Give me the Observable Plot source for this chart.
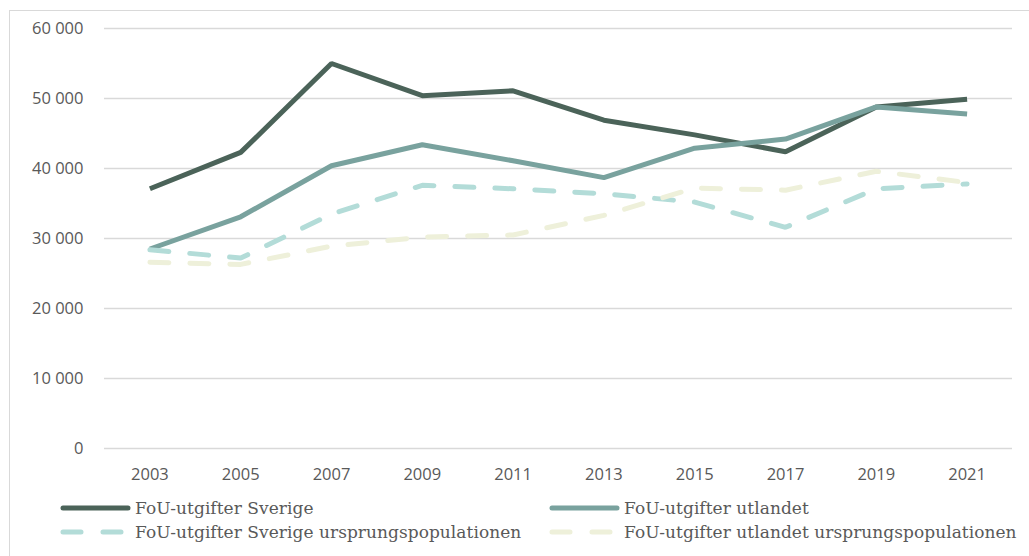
<!DOCTYPE html>
<html>
<head>
<meta charset="utf-8">
<script src="https://cdn.jsdelivr.net/npm/d3@7"></script>
<script src="https://cdn.jsdelivr.net/npm/@observablehq/plot@0.6"></script>
<style>
  html, body { margin: 0; padding: 0; background: #fff; }
  #wrap { position: relative; width: 1029px; height: 556px; overflow: hidden; background: #fff; }
  #frame { position: absolute; left: 9px; top: 10px; width: 1030px; height: 560px;
           border-top: 1.5px solid #d9d9d9; border-left: 1.5px solid #d9d9d9; box-sizing: border-box; }
  #chart { position: absolute; left: 0; top: 0; }
  .leg { position: absolute; display: flex; align-items: center; font-family: "DejaVu Serif", serif;
         font-size: 17px; color: #595959; white-space: nowrap; letter-spacing: 0.05px; }
  .leg svg { margin-right: 4px; }
</style>
</head>
<body>
<div id="wrap">
  <div id="frame"></div>
  <div id="chart"></div>
</div>
<script>
const years = ["2003","2005","2007","2009","2011","2013","2015","2017","2019","2021"];
const seriesNames = [
  "FoU-utgifter Sverige",
  "FoU-utgifter utlandet",
  "FoU-utgifter Sverige ursprungspopulationen",
  "FoU-utgifter utlandet ursprungspopulationen"
];
const sverige      = [37100, 42300, 55000, 50400, 51100, 46900, 44800, 42400, 48800, 49900];
const utlandet     = [28500, 33100, 40400, 43400, 41100, 38700, 42900, 44200, 48800, 47800];
const sverigeUrspr = [28400, 27200, 33500, 37600, 37100, 36400, 35200, 31600, 37100, 37800];
const utlandetUrspr= [26600, 26300, 28900, 30200, 30500, 33300, 37200, 36900, 39600, 38000];
const yTicks = [0, 10000, 20000, 30000, 40000, 50000, 60000];

const colors = ["#4b6359", "#79a29e", "#b3dcd8", "#eef0da"];
const dashed = [false, false, true, true];
const allValues = [sverige, utlandet, sverigeUrspr, utlandetUrspr];

const rows = [];
allValues.forEach((vals, si) => {
  vals.forEach((v, i) => rows.push({series: seriesNames[si], year: years[i], value: v}));
});

const fmt = v => d3.format(",")(v).replace(/,/g, " ");

const lineMarks = seriesNames.map((name, si) =>
  Plot.line(rows.filter(d => d.series === name), {
    x: "year", y: "value",
    stroke: colors[si], strokeWidth: 5,
    strokeLinecap: dashed[si] ? "round" : "butt",
    strokeLinejoin: "miter",
    strokeDasharray: dashed[si] ? "19,21" : null
  })
);

const chart = Plot.plot({
  width: 1029,
  height: 490,
  marginTop: 28,
  marginBottom: 42,
  marginLeft: 104,
  marginRight: 17,
  style: { fontFamily: "'Open Sans', sans-serif", fontSize: "16.5px", color: "#595959", background: "transparent" },
  x: { type: "point", domain: years, padding: 0.5, round: false, label: null },
  y: { domain: [0, 60000], ticks: yTicks, label: null },
  marks: [
    Plot.gridY(yTicks, { stroke: "#d9d9d9", strokeOpacity: 1, strokeWidth: 1.4 }),
    Plot.axisX({ tickSize: 0, tickPadding: 20, label: null, fill: "#595959" }),
    Plot.axisY(yTicks, { tickSize: 0, tickPadding: 21, tickFormat: fmt, label: null, fill: "#595959" }),
    ...lineMarks
  ]
});
document.getElementById("chart").appendChild(chart);

// Legend
const legPos = [
  {left: 60, top: 508}, {left: 549, top: 508},
  {left: 60, top: 532}, {left: 549, top: 532}
];
const wrap = document.getElementById("wrap");
seriesNames.forEach((name, si) => {
  const div = document.createElement("div");
  div.className = "leg";
  div.style.left = legPos[si].left + "px";
  div.style.top = (legPos[si].top - 11) + "px";
  div.style.height = "22px";
  const w = 71;
  const ns = "http://www.w3.org/2000/svg";
  const svg = document.createElementNS(ns, "svg");
  svg.setAttribute("width", w); svg.setAttribute("height", 10);
  const ln = document.createElementNS(ns, "line");
  ln.setAttribute("x1", 3); ln.setAttribute("x2", w - 3);
  ln.setAttribute("y1", 5); ln.setAttribute("y2", 5);
  ln.setAttribute("stroke", colors[si]); ln.setAttribute("stroke-width", 5);
  ln.setAttribute("stroke-linecap", "round");
  if (dashed[si]) ln.setAttribute("stroke-dasharray", "18,22");
  svg.appendChild(ln);
  div.appendChild(svg);
  const sp = document.createElement("span");
  sp.textContent = name;
  div.appendChild(sp);
  wrap.appendChild(div);
});
</script>
</body>
</html>
